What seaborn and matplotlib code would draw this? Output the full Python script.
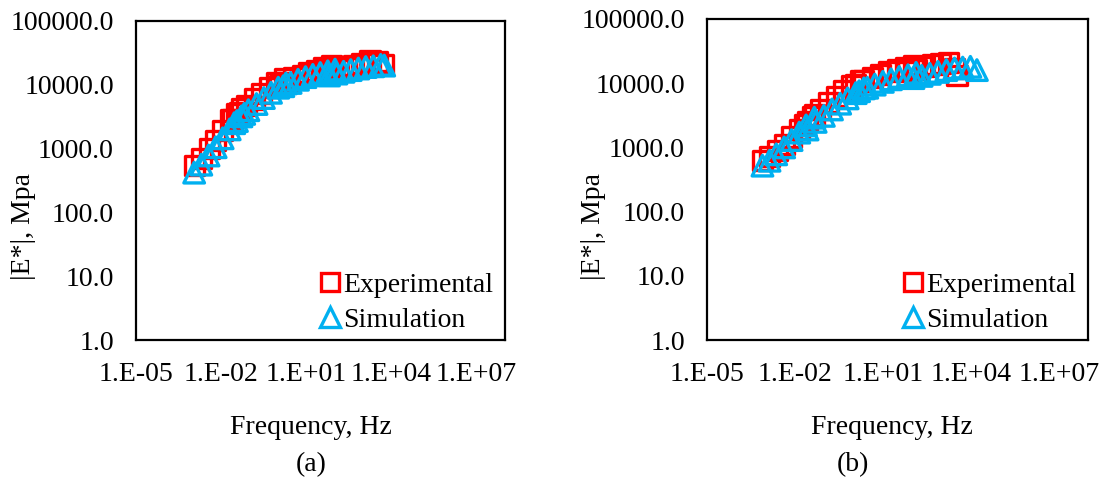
import matplotlib
matplotlib.use("Agg")
import matplotlib.pyplot as plt
import seaborn as sns
import pandas as pd
from matplotlib.lines import Line2D

# ---------------- data ----------------
# Panel (a)
a_exp_freq = [1.17e-3, 2.0e-3, 3.8e-3, 6.4e-3, 1.13e-2, 2.2e-2, 3.4e-2, 5.2e-2,
              2.5e-2, 4.3e-2, 7.8e-2, 0.147, 0.26, 0.50, 0.88, 1.66,
              1.18, 2.1, 3.7, 7.1, 12, 23, 42, 77,
              39, 71, 135, 260, 473, 912, 1760, 3240, 5320]
a_exp_mod = [550, 700, 1000, 1350, 1900, 2800, 3500, 4300,
             2900, 3700, 4800, 6000, 7400, 9200, 10800, 12500,
             9800, 11000, 12800, 14200, 15500, 17000, 18500, 20000,
             14500, 15800, 17200, 18800, 20000, 21500, 24000, 23000, 21000]
a_sim_freq = [1.12e-3, 2.0e-3, 3.6e-3, 6.4e-3, 1.13e-2, 2.0e-2, 3.6e-2, 6.5e-2,
              2.9e-2, 5.2e-2, 9.1e-2, 0.176, 0.32, 0.57, 1.03, 1.91,
              1.55, 2.8, 5.1, 9.4, 16.9, 31, 57, 103,
              63, 115, 205, 367, 682, 1240, 2290, 4170, 5560]
a_sim_mod = [420, 560, 780, 1050, 1450, 2000, 2700, 3500,
             2500, 3200, 4000, 5000, 6200, 7500, 9000, 10500,
             9500, 10700, 12000, 13200, 14300, 15300, 16300, 17300,
             14000, 15000, 16000, 17000, 18000, 19000, 19500, 20500, 20000]

# Panel (b)
b_exp_freq = [7.8e-4, 1.36e-3, 2.6e-3, 4.3e-3, 7.7e-3, 1.41e-2, 2.7e-2, 4.6e-2,
              2.2e-2, 4.1e-2, 7.4e-2, 0.141, 0.27, 0.47, 0.89, 1.73,
              1.19, 2.26, 4.3, 8.5, 16.1, 31, 58, 111,
              72, 136, 259, 492, 935, 1780, 2790, 3380]
b_exp_mod = [620, 720, 900, 1100, 1450, 1900, 2500, 3200,
             2300, 3000, 3900, 5000, 6300, 7800, 9300, 10800,
             9500, 10800, 12200, 13500, 15000, 16200, 17500, 19000,
             15000, 16500, 18000, 19500, 20500, 21000, 17000, 13000]
b_sim_freq = [7.8e-4, 1.36e-3, 2.3e-3, 4.3e-3, 7.7e-3, 1.41e-2, 2.4e-2, 4.6e-2,
              2.7e-2, 5.1e-2, 9.7e-2, 0.184, 0.35, 0.63, 1.19, 2.26,
              1.55, 2.95, 5.3, 10, 19, 36, 72, 136,
              111, 210, 400, 760, 1470, 2790, 5300, 9700, 16200]
b_sim_mod = [520, 620, 780, 1000, 1300, 1700, 2200, 2900,
             1900, 2500, 3100, 3900, 4800, 5800, 7000, 8300,
             7500, 8500, 9500, 10500, 11500, 12500, 13300, 14500,
             12000, 13000, 14000, 15000, 16000, 17000, 17500, 18000, 16000]

x_ticks = [1e-5, 1e-2, 1e1, 1e4, 1e7]
x_tick_labels = ["1.E-05", "1.E-02", "1.E+01", "1.E+04", "1.E+07"]
y_ticks = [1, 10, 100, 1000, 10000, 100000]
y_tick_labels = ["1.0", "10.0", "100.0", "1000.0", "10000.0", "100000.0"]
series_names = ["Experimental", "Simulation"]
panel_labels = ["(a)", "(b)"]

# ---------------- style ----------------
sns.set_theme(style="white")
plt.rcParams["font.family"] = ["Liberation Serif", "DejaVu Serif"]
plt.rcParams["text.color"] = "black"
plt.rcParams["axes.labelcolor"] = "black"
FS = 20
RED = "#FF0000"
CYAN = "#00B0F0"

W, H = 1100, 487
fig = plt.figure(figsize=(W / 100, H / 100), dpi=100)

# axes boxes in pixel coords (left, top, right, bottom)
boxes = [(136, 21, 505, 340), (707, 19, 1088, 340)]
xlab_x = [311, 892]
ylab_x = [23, 593]
panel_x = [311, 853]
legend_text_end = [493, 1076]

panels = [
    (a_exp_freq, a_exp_mod, a_sim_freq, a_sim_mod),
    (b_exp_freq, b_exp_mod, b_sim_freq, b_sim_mod),
]

for i, (ef, em, sf, sm) in enumerate(panels):
    l, t, r, b = boxes[i]
    ax = fig.add_axes([l / W, 1 - b / H, (r - l) / W, (b - t) / H])
    df_e = pd.DataFrame({"freq": ef, "mod": em})
    df_s = pd.DataFrame({"freq": sf, "mod": sm})
    sns.scatterplot(data=df_e, x="freq", y="mod", ax=ax, marker="s", s=190,
                    facecolor="none", edgecolor=RED, linewidth=2.4, zorder=2)
    sns.scatterplot(data=df_s, x="freq", y="mod", ax=ax, marker="^", s=220,
                    facecolor="none", edgecolor=CYAN, linewidth=2.4, zorder=3)
    ax.set_xscale("log")
    ax.set_yscale("log")
    ax.set_xlim(1e-5, 1e8)
    ax.set_ylim(1, 1e5)
    ax.set_xticks(x_ticks)
    ax.set_xticklabels(x_tick_labels)
    ax.set_yticks(y_ticks)
    ax.set_yticklabels(y_tick_labels)
    ax.minorticks_off()
    ax.tick_params(axis="both", length=0, labelsize=FS, colors="black")
    ax.tick_params(axis="x", pad=16)
    ax.tick_params(axis="y", pad=16)
    for sp in ax.spines.values():
        sp.set_color("black")
        sp.set_linewidth(1.6)
        sp.set_visible(True)
    ax.grid(False)

    ax.set_xlabel("Frequency, Hz", fontsize=FS, color="black")
    ax.xaxis.label.set_va("center")
    ax.xaxis.set_label_coords((xlab_x[i] - l) / (r - l), (b - 427) / (b - t))
    ax.set_ylabel("|E*|, Mpa", fontsize=FS, color="black")
    ax.yaxis.label.set_va("center")
    ax.yaxis.set_label_coords((ylab_x[i] - l) / (r - l), (b - 227) / (b - t))

    ax.text((panel_x[i] - l) / (r - l), (b - 465) / (b - t), panel_labels[i],
            transform=ax.transAxes, ha="center", va="center", fontsize=FS,
            color="black")

    handles = [
        Line2D([], [], linestyle="none", marker="s", markersize=13,
               markerfacecolor="none", markeredgecolor=RED, markeredgewidth=2.4),
        Line2D([], [], linestyle="none", marker="^", markersize=14,
               markerfacecolor="none", markeredgecolor=CYAN, markeredgewidth=2.4),
    ]
    leg = ax.legend(handles, series_names, loc="lower right", frameon=False,
                    fontsize=FS, handlelength=0.7, handletextpad=0.1,
                    borderaxespad=0.0, labelspacing=0.35,
                    bbox_to_anchor=((legend_text_end[i] + 11 - l) / (r - l), -0.012))
    for txt in leg.get_texts():
        txt.set_color("black")

fig.savefig("out.png", dpi=100)
